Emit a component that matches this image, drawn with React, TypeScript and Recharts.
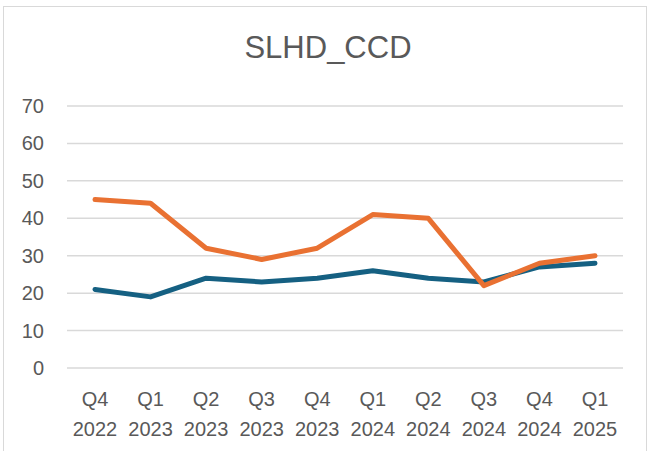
import React from 'react';
import { LineChart, Line, XAxis, YAxis, CartesianGrid } from 'recharts';

const quarters = ['Q4', 'Q1', 'Q2', 'Q3', 'Q4', 'Q1', 'Q2', 'Q3', 'Q4', 'Q1'];
const years = ['2022', '2023', '2023', '2023', '2023', '2024', '2024', '2024', '2024', '2025'];
const blueSeries = [21, 19, 24, 23, 24, 26, 24, 23, 27, 28];
const orangeSeries = [45, 44, 32, 29, 32, 41, 40, 22, 28, 30];
const yTicks = [0, 10, 20, 30, 40, 50, 60, 70];

const data = quarters.map((q, i) => ({
  key: `${q} ${years[i]}`,
  quarter: q,
  year: years[i],
  blue: blueSeries[i],
  orange: orangeSeries[i],
}));

const FONT = '"Liberation Sans", Arial, sans-serif';
const TEXT = '#595959';

const XTick = (props: any) => {
  const { x, y, payload } = props;
  const [q, yr] = String(payload.value).split(' ');
  return (
    <text x={x} textAnchor="middle" fill={TEXT} fontSize={20} fontFamily={FONT}>
      <tspan x={x} y={y + 30}>{q}</tspan>
      <tspan x={x} y={y + 60}>{yr}</tspan>
    </text>
  );
};

const YTick = (props: any) => {
  const { y, payload } = props;
  return (
    <text x={44} y={y} dy={7} textAnchor="end" fill={TEXT} fontSize={20} fontFamily={FONT}>
      {payload.value}
    </text>
  );
};

export default function App() {
  return (
    <div style={{ position: 'absolute', left: 0, top: 0, width: 649, height: 451, background: '#fff', overflow: 'hidden' }}>
      <div style={{ position: 'absolute', left: 3, top: 6, width: 642, height: 470, border: '1px solid #d9d9d9' }} />
      <div
        style={{
          position: 'absolute', left: 0, top: 28, width: 656, textAlign: 'center',
          fontFamily: FONT, fontSize: 31, color: TEXT, lineHeight: '40px',
        }}
      >
        SLHD_CCD
      </div>
      <div style={{ position: 'absolute', left: 0, top: 0 }}>
        <LineChart width={649} height={451} data={data} margin={{ top: 106, right: 26, bottom: 0, left: 0 }}>
          <CartesianGrid horizontal vertical={false} stroke="#d9d9d9" strokeWidth={1.5} />
          <XAxis
            dataKey="key"
            axisLine={false}
            tickLine={false}
            height={83}
            interval={0}
            padding={{ left: 28, right: 28 }}
            tick={<XTick />}
          />
          <YAxis
            domain={[0, 70]}
            ticks={yTicks}
            axisLine={false}
            tickLine={false}
            width={67}
            interval={0}
            tick={<YTick />}
          />
          <Line
            type="linear"
            dataKey="blue"
            stroke="#156082"
            strokeWidth={5}
            strokeLinecap="round"
            strokeLinejoin="round"
            dot={false}
            activeDot={false}
            isAnimationActive={false}
          />
          <Line
            type="linear"
            dataKey="orange"
            stroke="#E97132"
            strokeWidth={5}
            strokeLinecap="round"
            strokeLinejoin="round"
            dot={false}
            activeDot={false}
            isAnimationActive={false}
          />
        </LineChart>
      </div>
    </div>
  );
}
